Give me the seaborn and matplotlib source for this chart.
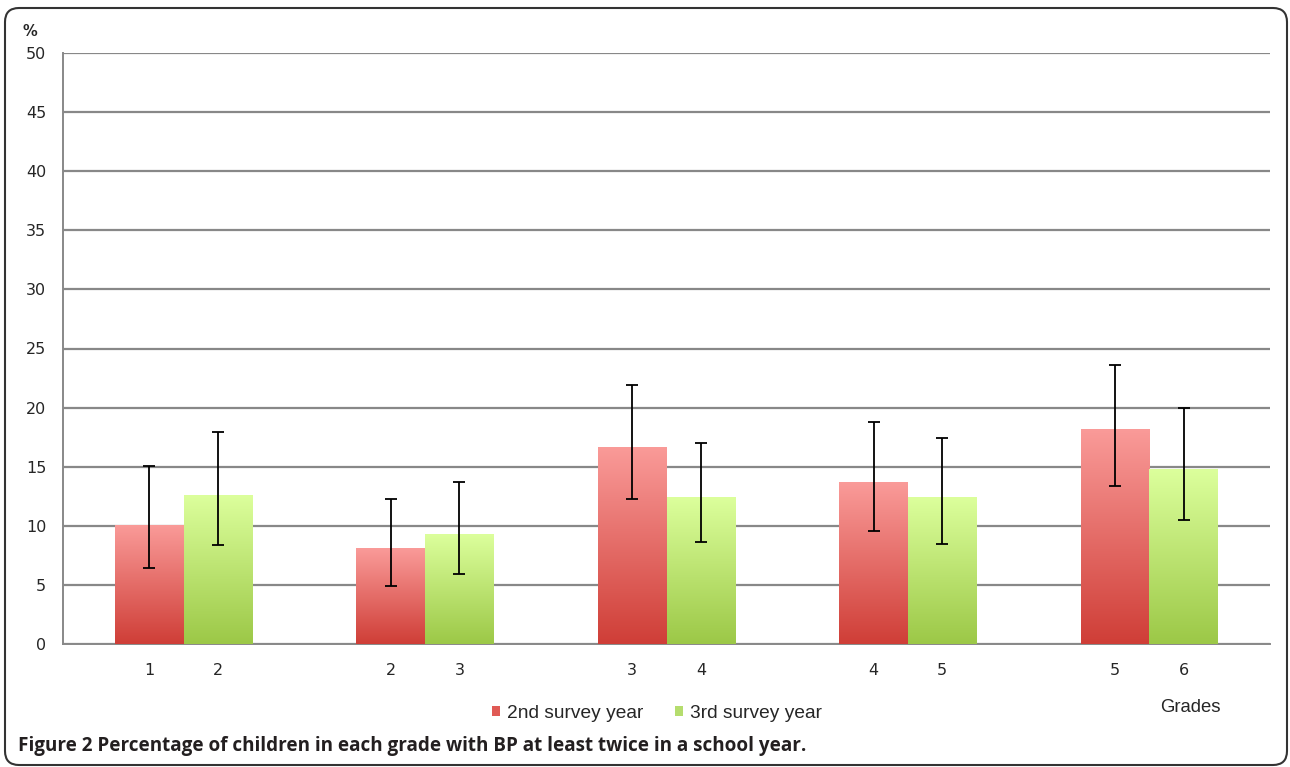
import numpy as np
import pandas as pd
import matplotlib.pyplot as plt
import matplotlib.colors as mcolors
from matplotlib.patches import FancyBboxPatch, Patch
from matplotlib.transforms import IdentityTransform
import seaborn as sns

# --- Dados ---
groups = ['G1', 'G2', 'G3', 'G4', 'G5']
series = ['2nd survey year', '3rd survey year']
pct_2nd = [10.1, 8.1, 16.7, 13.7, 18.2]
pct_3rd = [12.6, 9.3, 12.4, 12.4, 14.8]
low_2nd = [6.4, 4.9, 12.3, 9.6, 13.4]
high_2nd = [15.1, 12.3, 21.9, 18.8, 23.6]
low_3rd = [8.4, 5.9, 8.6, 8.5, 10.5]
high_3rd = [17.9, 13.7, 17.0, 17.4, 20.0]
grades_2nd = ['1', '2', '3', '4', '5']
grades_3rd = ['2', '3', '4', '5', '6']

df = pd.DataFrame({
    'group': groups * 2,
    'series': [series[0]] * 5 + [series[1]] * 5,
    'pct': pct_2nd + pct_3rd,
})

# cores do degradê (topo claro, base escura)
grad_colors = {
    series[0]: ('#fa9b99', '#cf3e37'),
    series[1]: ('#dcff9c', '#9cc847'),
}
legend_colors = {series[0]: '#e05a55', series[1]: '#b5dd6e'}

sns.set_style('white')
plt.rcParams['font.family'] = ['DejaVu Sans']

fig = plt.figure(figsize=(12.9, 7.67), dpi=100)
ax = fig.add_axes([63 / 1290, 123 / 767, 1207 / 1290, 591 / 767])

sns.barplot(data=df, x='group', y='pct', hue='series', order=groups, hue_order=series,
            palette=[grad_colors[s][1] for s in series], width=0.57, gap=0,
            errorbar=None, ax=ax, zorder=3, legend=False)

# --- Degradê dentro de cada barra ---
bars = ax.patches[:10]
centers = []
for k, p in enumerate(bars):
    s = series[k // 5]
    top_c, bot_c = grad_colors[s]
    cmap = mcolors.LinearSegmentedColormap.from_list('g', [bot_c, top_c])
    x0, w = p.get_x(), p.get_width()
    h = p.get_height()
    grad = np.linspace(0, 1, 256).reshape(-1, 1)
    im = ax.imshow(grad, cmap=cmap, origin='lower', aspect='auto',
                   extent=[x0, x0 + w, 0, h], zorder=3.1)
    im.set_clip_path(p)
    p.set_edgecolor('none')
    centers.append(x0 + w / 2)

centers_2nd = centers[:5]
centers_3rd = centers[5:]

# --- Barras de erro ---
for xs, vals, lo, hi in [(centers_2nd, pct_2nd, low_2nd, high_2nd),
                         (centers_3rd, pct_3rd, low_3rd, high_3rd)]:
    vals = np.array(vals)
    yerr = [vals - np.array(lo), np.array(hi) - vals]
    ax.errorbar(xs, vals, yerr=yerr, fmt='none', ecolor='black', elinewidth=1.3,
                capsize=4, capthick=1.3, zorder=4)

ax.set_xlim(-0.5, 4.5)
ax.set_ylim(0, 50)
ax.set_yticks(np.arange(0, 51, 5))
ax.yaxis.grid(True, color='#888888', linewidth=1.6, zorder=0)
ax.set_axisbelow(True)

# ticks do eixo x: separadores de grupo e notas sob cada barra
ax.set_xticks(np.arange(-0.5, 5, 1))
ax.set_xticklabels([])
ax.set_xticks(centers_2nd + centers_3rd, minor=True)
ax.set_xticklabels(grades_2nd + grades_3rd, minor=True)
ax.tick_params(axis='x', which='major', direction='out', length=6, color='#888888', width=1)
ax.tick_params(axis='x', which='minor', length=0, pad=14, labelsize=11.5)
ax.tick_params(axis='y', direction='out', length=5, color='#888888', width=1.2,
               labelsize=11.5, pad=7)
ax.set_xlabel('')
ax.set_ylabel('')

for side in ['top', 'right']:
    ax.spines[side].set_visible(False)
for side in ['left', 'bottom']:
    ax.spines[side].set_color('#888888')
    ax.spines[side].set_linewidth(1.4)

# --- Legenda ---
handles = [Patch(facecolor=legend_colors[s], edgecolor='none') for s in series]
fig.legend(handles, series, loc='center', bbox_to_anchor=(657 / 1290, 1 - 713 / 767),
           ncol=2, frameon=False, handlelength=0.42, handleheight=0.42, handletextpad=0.4,
           columnspacing=1.6, prop={'family': 'Liberation Sans', 'size': 13.8})

fig.text(1190 / 1290, 1 - 708 / 767, 'Grades', ha='center', va='center',
         family='Liberation Sans', fontsize=13.3)
fig.text(30 / 1290, 1 - 31 / 767, '%', ha='center', va='center',
         fontsize=10.5, fontweight='bold')

# legenda da figura
fig.text(18 / 1290, 1 - 751 / 767,
         'Figure 2 Percentage of children in each grade with BP at least twice in a school year.',
         ha='left', va='baseline', family='Open Sans', fontweight='bold',
         fontsize=13.6, color='#231f20')

# moldura arredondada
frame = FancyBboxPatch((5, 2), 1282, 757, boxstyle='round,pad=0,rounding_size=14',
                       transform=IdentityTransform(), facecolor='none',
                       edgecolor='#333333', linewidth=1.5)
fig.patches.append(frame)

fig.savefig('out.png', dpi=100)
